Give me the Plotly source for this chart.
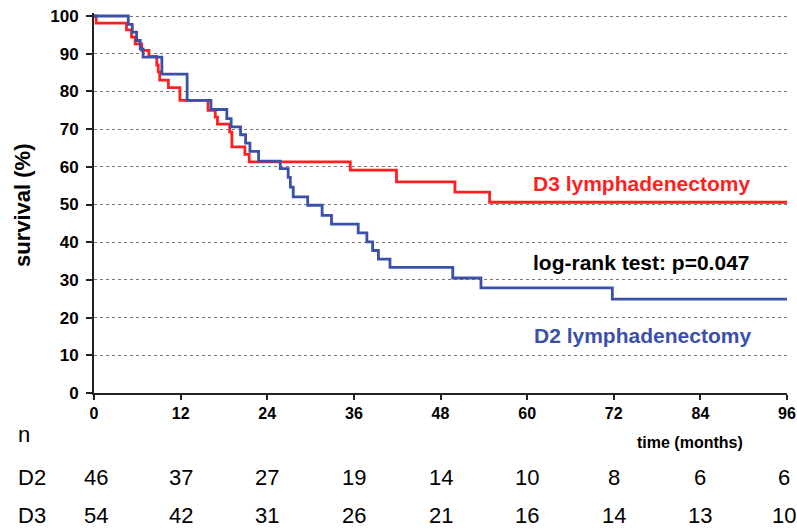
import plotly.graph_objects as go

# ---- data ----
months_d2 = [0, 4.75, 5.3, 5.9, 6.4, 6.8, 9.4, 12.9, 16.2, 18.4, 19.0, 20.3, 21.0, 21.6, 22.8,
             25.8, 26.9, 27.2, 27.6, 29.6, 31.6, 32.9, 36.6, 37.8, 38.6, 39.4, 41.0, 49.7, 53.6, 71.8, 96]
surv_d2 = [100, 97.8, 95.7, 93.5, 91.3, 89.1, 84.6, 77.6, 75.2, 72.8, 70.6, 68.5, 66.3, 64.1, 61.5,
           59.5, 57.2, 54.6, 52.0, 49.8, 47.1, 44.8, 42.5, 40.1, 37.8, 35.5, 33.3, 30.5, 27.9, 24.9, 24.9]

months_d3 = [0, 0.3, 4.5, 5.2, 5.7, 6.6, 7.6, 8.7, 8.9, 9.1, 10.3, 11.9, 15.8, 16.8, 17.1, 18.8,
             19.1, 20.9, 21.5, 35.5, 41.9, 50.0, 54.8, 96]
surv_d3 = [100, 98.1, 96.3, 94.4, 92.6, 90.9, 89.3, 87.0, 85.2, 83.0, 81.0, 77.6, 75.0, 73.2, 71.3, 69.2,
           65.3, 63.3, 61.3, 59.1, 56.0, 53.3, 50.6, 50.6]

tick_months = [0, 12, 24, 36, 48, 60, 72, 84, 96]
y_ticks = [0, 10, 20, 30, 40, 50, 60, 70, 80, 90, 100]
risk_d2 = [46, 37, 27, 19, 14, 10, 8, 6, 6]
risk_d3 = [54, 42, 31, 26, 21, 16, 14, 13, 10]

RED = "#ff1f1f"
BLUE = "#3b50a8"
FONT = "Liberation Sans, Arial, sans-serif"

W, H = 797, 529
ML, MT = 94, 13
PW = 787 - 94
PH = 393 - 13
MR = W - ML - PW
MB = H - MT - PH


def xp(px):  # page pixel -> paper x
    return (px - ML) / PW


def yp(py):  # page pixel -> paper y
    return (MT + PH - py) / PH


fig = go.Figure()
fig.add_trace(go.Scatter(x=months_d3, y=surv_d3, mode="lines", line=dict(color=RED, width=2.8, shape="hv"),
                         name="D3", showlegend=False))
fig.add_trace(go.Scatter(x=months_d2, y=surv_d2, mode="lines", line=dict(color=BLUE, width=2.8, shape="hv"),
                         name="D2", showlegend=False))

ann = []
ann.append(dict(text="<b>survival (%)</b>", xref="paper", yref="paper", x=xp(22), y=yp(205),
                xanchor="center", yanchor="middle",
                textangle=-90, showarrow=False, font=dict(size=22, color="black", family=FONT)))
ann.append(dict(text="<b>time (months)</b>", xref="paper", yref="paper", x=xp(690), y=yp(442),
                xanchor="center", yanchor="middle",
                showarrow=False, font=dict(size=16, color="black", family=FONT)))
ann.append(dict(text="<b>D3 lymphadenectomy</b>", xref="x", yref="y", x=75.8, y=55.6, showarrow=False,
                font=dict(size=21, color=RED, family=FONT)))
ann.append(dict(text="<b>log-rank test: p=0.047</b>", xref="x", yref="y", x=75.8, y=34.7, showarrow=False,
                font=dict(size=21, color="black", family=FONT)))
ann.append(dict(text="<b>D2 lymphadenectomy</b>", xref="x", yref="y", x=76.0, y=15.3, showarrow=False,
                font=dict(size=21, color=BLUE, family=FONT)))
for lab, py in [("n", 435), ("D2", 477), ("D3", 515)]:
    ann.append(dict(text=lab, xref="paper", yref="paper", x=xp(16), y=yp(py), xanchor="left",
                    yanchor="middle", showarrow=False, font=dict(size=22, color="black", family=FONT)))
for row, py in [(risk_d2, 477), (risk_d3, 515)]:
    for i, (t, v) in enumerate(zip(tick_months, row)):
        ann.append(dict(text=str(v), xref="x", yref="paper", x=t, y=yp(py), showarrow=False,
                        yanchor="middle",
                        xshift=(2 if i == 0 else (-3 if i == len(row) - 1 else 0)),
                        font=dict(size=22, color="black", family=FONT)))

fig.update_layout(
    width=W, height=H, margin=dict(l=ML, r=MR, t=MT, b=MB, autoexpand=False),
    plot_bgcolor="white", paper_bgcolor="white",
    annotations=ann,
    font=dict(family=FONT, color="black"),
)
fig.update_xaxes(range=[0, 96], tickvals=tick_months, ticktext=[f"<b>{t}</b>" for t in tick_months],
                 showgrid=False, zeroline=False, showline=True, linecolor="#222", linewidth=2,
                 ticks="outside", ticklen=5, tickwidth=1.5, tickcolor="#222", automargin=False,
                 ticklabeloverflow="allow",
                 tickfont=dict(size=16, color="black", family=FONT))
fig.update_yaxes(range=[0, PH / 3.77], tickvals=y_ticks, ticktext=[f"<b>{v}</b>" for v in y_ticks],
                 showgrid=True, gridcolor="#777", gridwidth=1, griddash="dot", zeroline=False,
                 showline=True, linecolor="#222", linewidth=2, automargin=False,
                 ticks="outside", ticklen=6, tickwidth=1.5, tickcolor="#222", ticklabelstandoff=4,
                 ticklabeloverflow="allow",
                 tickfont=dict(size=17, color="black", family=FONT))

fig.write_html("out.html", config={"displayModeBar": False},
               post_script="document.body.style.margin='0';document.body.style.overflow='hidden';")
